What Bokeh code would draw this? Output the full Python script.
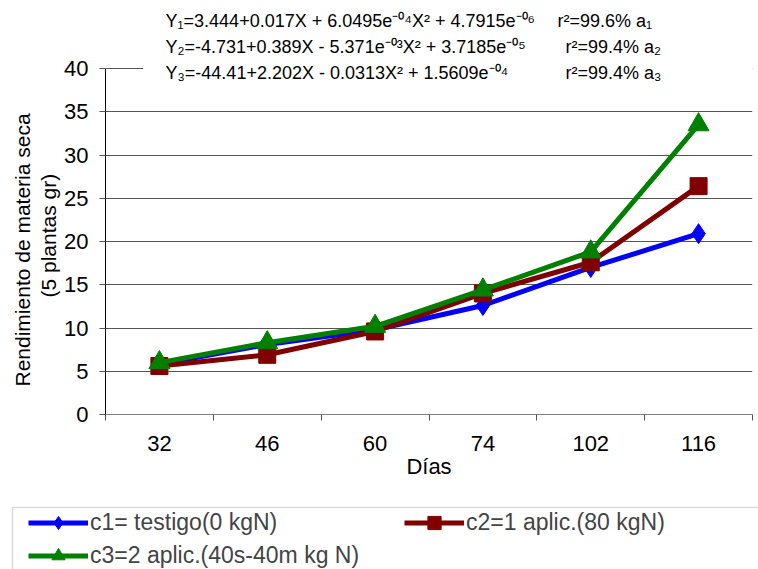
from bokeh.plotting import figure
from bokeh.models import (FixedTicker, Label, Legend, LegendItem,
                          BoxAnnotation, Range1d, Title)
from bokeh.layouts import column
from bokeh.embed import file_html
from bokeh.resources import INLINE

# ---- data ----
days = ["32", "46", "60", "74", "102", "116"]
c1 = [5.8, 8.1, 9.8, 12.6, 17.0, 20.9]
c2 = [5.6, 6.9, 9.6, 14.0, 17.6, 26.4]
c3 = [6.0, 8.3, 10.2, 14.4, 18.8, 33.5]
y_ticks = [0, 5, 10, 15, 20, 25, 30, 35, 40]
series_names = ["c1= testigo(0 kgN)", "c2=1 aplic.(80 kgN)", "c3=2 aplic.(40s-40m kg N)"]
equations = [
    "Y\u2081=3.444+0.017X + 6.0495e\u207b\u2070\u2074X\u00b2 + 4.7915e\u207b\u2070\u2076",
    "Y\u2082=-4.731+0.389X - 5.371e\u207b\u2070\u00b3X\u00b2 + 3.7185e\u207b\u2070\u2075",
    "Y\u2083=-44.41+2.202X - 0.0313X\u00b2 + 1.5609e\u207b\u2070\u2074",
]
r2_texts = ["r\u00b2=99.6% a\u2081", "r\u00b2=99.4% a\u2082", "r\u00b2=99.4% a\u2083"]
y_label_lines = ["Rendimiento de materia seca", "(5 plantas gr)"]
x_label = "Días"

FONT = "Liberation Sans"
colors = ["#0000FF", "#800000", "#008000"]
markers = ["diamond", "square", "triangle"]
msizes = [20, 17, 21]

x = [i + 0.5 for i in range(len(days))]
x_bounds = list(range(len(days) + 1))

# layout (px)
W, H1, H2 = 758, 506, 63
FL, FR, FB = 105, 752, 414          # frame left/right/bottom
Y_TOP_PX = 68                        # where y=40 sits
px_per_unit = (FB - Y_TOP_PX) / y_ticks[-1]
y_end = y_ticks[-1] + Y_TOP_PX / px_per_unit   # frame extends to figure top

p = figure(width=W, height=H1, x_range=Range1d(0, len(days)), y_range=Range1d(0, y_end),
           output_backend="svg", toolbar_location=None,
           min_border_left=FL, min_border_right=W - FR, min_border_top=0,
           min_border_bottom=H1 - FB)
p.frame_align = False
p.outline_line_color = None
p.background_fill_color = "white"
p.border_fill_color = "white"
p.xgrid.visible = False
p.ygrid.ticker = FixedTicker(ticks=y_ticks)
p.ygrid.grid_line_color = "#555555"
p.ygrid.grid_line_width = 1

# y axis
ya = p.yaxis[0]
ya.ticker = FixedTicker(ticks=y_ticks)
ya.bounds = (y_ticks[0], y_ticks[-1])
ya.major_tick_out = 6
ya.major_tick_in = 0
ya.minor_tick_line_color = None
ya.axis_line_color = "black"
ya.major_tick_line_color = "#555555"
ya.major_label_text_font = FONT
ya.major_label_text_font_size = "22px"
ya.major_label_text_color = "black"
ya.major_label_standoff = 11

# x axis: labels at category centres, boundary ticks as minor ticks
xa = p.xaxis[0]
xa.ticker = FixedTicker(ticks=x, minor_ticks=x_bounds)
xa.major_label_overrides = {xi: d for xi, d in zip(x, days)}
xa.major_tick_out = 6
xa.major_tick_in = 0
xa.major_tick_line_color = None
xa.minor_tick_out = 6
xa.minor_tick_in = 0
xa.minor_tick_line_color = "#555555"
xa.axis_line_color = "#808080"
xa.major_label_text_font = FONT
xa.major_label_text_font_size = "22px"
xa.major_label_text_color = "black"
xa.major_label_standoff = 15
xa.axis_label = x_label
xa.axis_label_text_font = FONT
xa.axis_label_text_font_size = "22px"
xa.axis_label_text_font_style = "normal"
xa.axis_label_text_color = "black"
xa.axis_label_standoff = 0

# series
for vals, col, mk, ms in zip([c1, c2, c3], colors, markers, msizes):
    p.line(x, vals, line_color=col, line_width=5)
    p.scatter(x, vals, marker=mk, size=ms, fill_color=col, line_color=col)

# white box behind the equations (hides the top gridline there)
p.add_layout(BoxAnnotation(left=0.35, right=len(days), bottom=38.5, top=y_end,
                           fill_color="white", fill_alpha=1, line_color=None))

# equations (screen px measured from frame bottom-left)
eq_y = [FB - 20, FB - 46, FB - 72]
r2_x = [452, 460, 460]
for t, yy in zip(equations, eq_y):
    p.add_layout(Label(x=60, y=yy, x_units="screen", y_units="screen", text=t,
                       text_font=FONT, text_font_size="18px", text_baseline="middle",
                       text_align="left", text_color="black"))
for t, xx, yy in zip(r2_texts, r2_x, eq_y):
    p.add_layout(Label(x=xx, y=yy, x_units="screen", y_units="screen", text=t,
                       text_font=FONT, text_font_size="18px", text_baseline="middle",
                       text_align="left", text_color="black"))

# y axis label: two lines as left titles (closest first)
p.add_layout(Title(text=y_label_lines[1], align="left", offset=117, standoff=3,
                   text_font=FONT, text_font_size="21px", text_font_style="normal",
                   text_color="black"), "left")
p.add_layout(Title(text=y_label_lines[0], align="left", offset=28, standoff=0,
                   text_font=FONT, text_font_size="21px", text_font_style="normal",
                   text_color="black"), "left")

# ---- legend strip (separate figure, px-based ranges) ----
q = figure(width=W, height=H2, x_range=Range1d(0, W), y_range=Range1d(0, H2),
           output_backend="svg", toolbar_location=None,
           x_axis_location=None, y_axis_location=None,
           min_border_left=0, min_border_right=0, min_border_top=0, min_border_bottom=0)
q.frame_align = False
q.outline_line_color = None
q.grid.visible = False
q.background_fill_color = "white"
q.border_fill_color = "white"
q.add_layout(BoxAnnotation(left=12, right=W + 20, top=H2 - 0.8, bottom=-10,
                           fill_color=None, fill_alpha=0, line_color="#808080", line_width=1.5))
nan = float("nan")
items = []
for col, mk, ms, name in zip(colors, markers, msizes, series_names):
    l = q.line([nan], [nan], line_color=col, line_width=5)
    s = q.scatter([nan], [nan], marker=mk, size=ms, fill_color=col, line_color=col)
    items.append(LegendItem(label=name, renderers=[l, s]))
legend = Legend(items=items, orientation="horizontal", ncols=2, location=(28, -3),
                border_line_color=None, background_fill_alpha=0,
                label_text_font=FONT, label_text_font_size="23px",
                glyph_width=60, glyph_height=33, label_standoff=2, label_width=314,
                spacing=0, padding=0, margin=0)
q.add_layout(legend, "center")

open("out.html", "w").write(file_html(column(p, q, spacing=0), INLINE))
